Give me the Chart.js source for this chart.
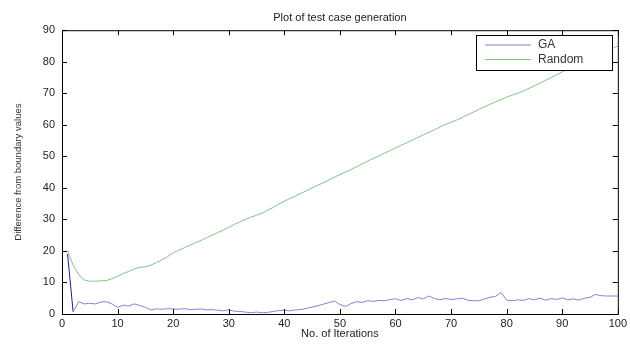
<!DOCTYPE html>
<html>
<head>
<meta charset="utf-8">
<script src="https://cdn.jsdelivr.net/npm/chart.js@4/dist/chart.umd.min.js"></script>
<style>
    html, body { margin: 0; padding: 0; background: #fff; }
    #wrap { width: 630px; height: 346px; }
</style>
</head>
<body>
<div id="wrap"><canvas id="plot" width="630" height="346"></canvas></div>
<script>
// iterations 1..100
const iterations = Array.from({ length: 100 }, (_, i) => i + 1);

const gaValues = [
    19, 0.7, 3.9, 3.2, 3.4, 3.2, 3.8, 3.9, 3.2, 2.1,
    2.8, 2.5, 3.2, 2.7, 2.1, 1.3, 1.6, 1.5, 1.7, 1.6,
    1.5, 1.7, 1.4, 1.5, 1.6, 1.3, 1.4, 1.2, 1.0, 1.3,
    0.9, 0.8, 0.6, 0.4, 0.6, 0.4, 0.5, 0.8, 1.1, 1.2,
    1.0, 1.3, 1.4, 1.8, 2.2, 2.6, 3.1, 3.6, 4.1, 3.0,
    2.4, 3.3, 3.9, 3.7, 4.2, 4.0, 4.3, 4.2, 4.6, 4.8,
    4.3, 4.9, 4.5, 5.2, 4.8, 5.7, 4.9, 4.5, 4.9, 4.6,
    4.8, 5.0, 4.4, 4.2, 4.2, 4.8, 5.3, 5.6, 6.8, 4.4,
    4.2, 4.5, 4.3, 4.9, 4.5, 5.0, 4.4, 4.9, 4.6, 5.1,
    4.5, 4.8, 4.4, 5.0, 5.3, 6.2, 5.8, 5.7, 5.7, 5.7
];

const randomValues = [
    20, 15.5, 12.5, 10.8, 10.4, 10.4, 10.5, 10.6, 11.2, 12.0,
    12.8, 13.5, 14.3, 14.8, 15.0, 15.5, 16.3, 17.2, 18.2, 19.4,
    20.2, 21.0, 21.8, 22.6, 23.3, 24.2, 25.0, 25.8, 26.6, 27.5,
    28.4, 29.2, 30.0, 30.7, 31.3, 32.0, 32.9, 33.8, 34.8, 35.8,
    36.6, 37.4, 38.3, 39.1, 40.0, 40.8, 41.6, 42.5, 43.4, 44.2,
    45.0, 45.8, 46.7, 47.6, 48.5, 49.3, 50.1, 51.0, 51.8, 52.7,
    53.5, 54.3, 55.1, 56.0, 56.8, 57.6, 58.4, 59.3, 60.1, 60.8,
    61.5, 62.3, 63.2, 64.0, 64.9, 65.7, 66.5, 67.3, 68.0, 68.8,
    69.4, 70.0, 70.7, 71.5, 72.4, 73.2, 74.1, 75.0, 75.9, 76.8,
    77.6, 78.4, 79.2, 80.0, 80.8, 81.6, 82.4, 83.3, 84.2, 85.0
];

const xTicks = [0, 10, 20, 30, 40, 50, 60, 70, 80, 90, 100];
const yTicks = [0, 10, 20, 30, 40, 50, 60, 70, 80, 90];

const FONT = '"Liberation Sans", Arial, sans-serif';

// matlab style box with inward ticks
const boxPlugin = {
    id: 'matlabBox',
    afterDatasetsDraw(chart) {
        const { ctx, chartArea: a, scales } = chart;
        ctx.save();
        ctx.strokeStyle = '#000';
        ctx.lineWidth = 1;
        ctx.strokeRect(a.left + 0.5, a.top + 0.5, a.right - a.left, a.bottom - a.top);
        ctx.beginPath();
        xTicks.forEach(v => {
            const px = Math.round(scales.x.getPixelForValue(v)) + 0.5;
            ctx.moveTo(px, a.bottom); ctx.lineTo(px, a.bottom - 5);
            ctx.moveTo(px, a.top); ctx.lineTo(px, a.top + 5);
        });
        yTicks.forEach(v => {
            const py = Math.round(scales.y.getPixelForValue(v)) + 0.5;
            ctx.moveTo(a.left, py); ctx.lineTo(a.left + 5, py);
            ctx.moveTo(a.right, py); ctx.lineTo(a.right - 5, py);
        });
        ctx.stroke();

        // legend box (inside top right)
        const lx = 476, ly = 35, lw = 136, lh = 35;
        ctx.fillStyle = '#fff';
        ctx.fillRect(lx, ly, lw, lh);
        ctx.strokeRect(lx + 0.5, ly + 0.5, lw, lh);
        ctx.font = '12px ' + FONT;
        ctx.textBaseline = 'middle';
        chart.data.datasets.forEach((ds, i) => {
            const y = ly + 10 + i * 14.5;
            ctx.strokeStyle = ds.borderColor;
            ctx.beginPath();
            ctx.moveTo(lx + 9, y); ctx.lineTo(lx + 55, y);
            ctx.stroke();
            ctx.fillStyle = '#333';
            ctx.fillText(ds.label, lx + 62, y);
        });
        ctx.restore();
    }
};

new Chart(document.getElementById('plot'), {
    type: 'line',
    data: {
        labels: iterations,
        datasets: [
            {
                label: 'GA',
                data: iterations.map((x, i) => ({ x, y: gaValues[i] })),
                borderColor: '#8585cf',
                borderWidth: 1,
                pointRadius: 0,
                tension: 0,
                segment: {
                    // first drop is drawn darker in the original
                    borderColor: c => c.p0DataIndex === 0 ? '#1c1c8a' : undefined
                }
            },
            {
                label: 'Random',
                data: iterations.map((x, i) => ({ x, y: randomValues[i] })),
                borderColor: '#86c286',
                borderWidth: 1,
                pointRadius: 0,
                tension: 0
            }
        ]
    },
    options: {
        responsive: false,
        animation: false,
        layout: { padding: { left: 0, right: 10, top: 0, bottom: 5 } },
        plugins: {
            legend: { display: false },
            tooltip: { enabled: false },
            title: {
                display: true,
                text: 'Plot of test case generation',
                fullSize: false,
                color: '#222',
                font: { family: FONT, size: 11, weight: 'normal' },
                padding: { top: 11, bottom: 6 }
            }
        },
        scales: {
            x: {
                type: 'linear',
                min: 0,
                max: 100,
                afterBuildTicks: s => { s.ticks = xTicks.map(v => ({ value: v })); },
                afterFit: s => { s.height = 27; },
                grid: { display: false, drawTicks: false },
                border: { display: false },
                ticks: {
                    color: '#222',
                    padding: 3,
                    maxRotation: 0,
                    font: { family: FONT, size: 11 }
                },
                title: {
                    display: true,
                    text: 'No. of Iterations',
                    color: '#222',
                    padding: { top: 0, bottom: 0 },
                    font: { family: FONT, size: 11 }
                }
            },
            y: {
                min: 0,
                max: 90,
                afterBuildTicks: s => { s.ticks = yTicks.map(v => ({ value: v })); },
                afterFit: s => { s.width = 62; },
                grid: { display: false, drawTicks: false },
                border: { display: false },
                ticks: {
                    color: '#222',
                    padding: 7,
                    font: { family: FONT, size: 11 }
                },
                title: {
                    display: true,
                    text: 'Difference from boundary values',
                    color: '#333',
                    padding: { top: 13, bottom: 4 },
                    font: { family: FONT, size: 9.5 }
                }
            }
        }
    },
    plugins: [boxPlugin]
});
</script>
</body>
</html>
